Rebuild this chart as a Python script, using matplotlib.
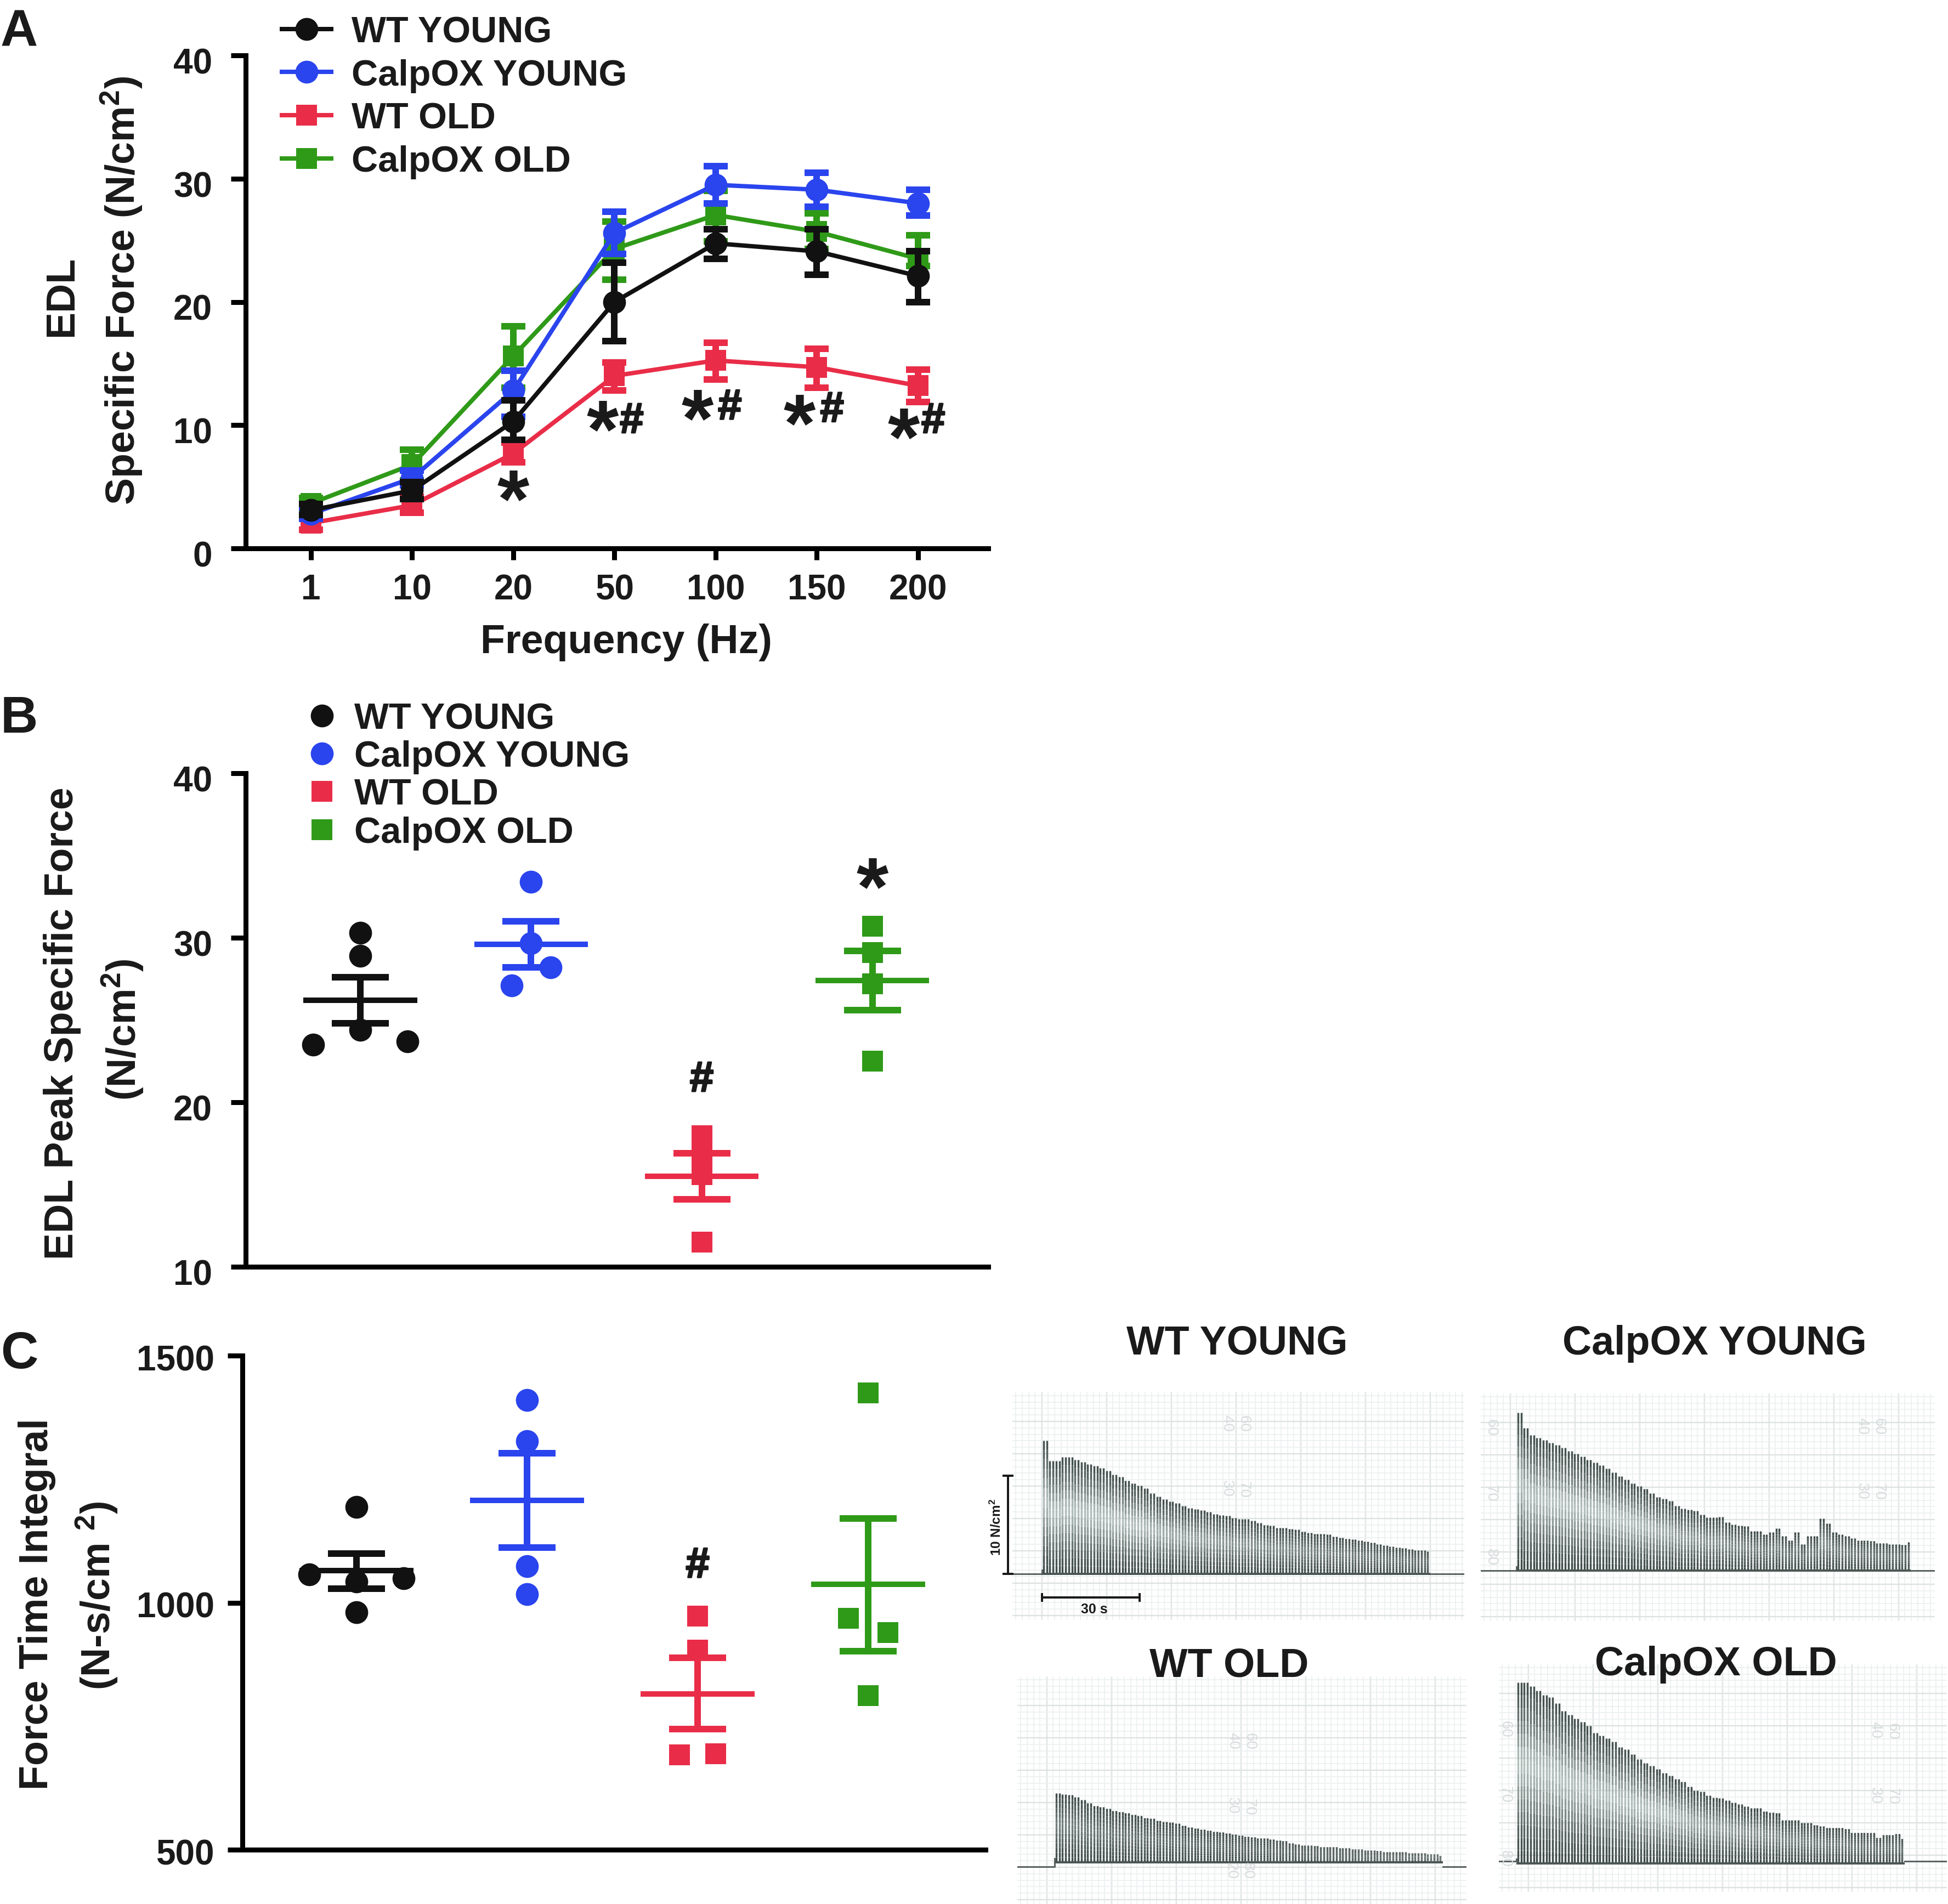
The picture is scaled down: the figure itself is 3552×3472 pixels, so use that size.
import numpy as np
import matplotlib
matplotlib.use("Agg")
import matplotlib.pyplot as plt
import matplotlib.patheffects as pe
from matplotlib.lines import Line2D
from matplotlib.transforms import ScaledTranslation

plt.rcParams['font.family'] = ['Liberation Sans', 'DejaVu Sans']
plt.rcParams['font.weight'] = 'bold'
plt.rcParams['mathtext.fontset'] = 'custom'
plt.rcParams['mathtext.rm'] = 'Liberation Sans:bold'
plt.rcParams['mathtext.bf'] = 'Liberation Sans:bold'
plt.rcParams['mathtext.default'] = 'rm'

W, H = 3552, 3473
BLACK = '#111111'
BLUE = '#2a44ee'
RED = '#e92d48'
GREEN = '#2f9a18'
TXT = '#1a1a1a'
groups = ['WT YOUNG', 'CalpOX YOUNG', 'WT OLD', 'CalpOX OLD']

# Panel A, frequency response
freq = ['1', '10', '20', '50', '100', '150', '200']
wt_young = [3.1, 4.7, 10.3, 20.0, 24.75, 24.1, 22.1]
wt_young_hi = [3.6, 5.4, 12.0, 23.2, 25.9, 25.9, 24.1]
wt_young_lo = [2.7, 4.0, 8.8, 16.8, 23.5, 22.2, 20.0]
calp_young = [2.8, 5.7, 12.8, 25.6, 29.5, 29.1, 28.0]
calp_young_hi = [3.3, 6.3, 14.4, 27.3, 31.0, 30.5, 29.1]
calp_young_lo = [2.4, 5.1, 10.7, 23.9, 28.0, 27.7, 27.0]
wt_old = [2.05, 3.5, 7.7, 14.0, 15.25, 14.7, 13.2]
wt_old_hi = [2.6, 4.2, 8.6, 15.1, 16.7, 16.2, 14.5]
wt_old_lo = [1.5, 2.9, 7.0, 12.8, 13.7, 13.05, 11.9]
calp_old = [3.65, 6.8, 15.6, 24.3, 27.05, 25.7, 23.5]
calp_old_hi = [4.1, 8.0, 18.0, 26.5, 29.0, 27.2, 25.4]
calp_old_lo = [3.1, 5.5, 13.05, 21.8, 24.9, 24.3, 22.9]
star_x_a = [2, 2.88, 3.82, 4.83, 5.86]
star_y_a = [5.07, 10.74, 11.6, 11.2, 10.1]
hash_x_a = [3.17, 4.14, 5.15, 6.15]
hash_y_a = [10.3, 11.4, 11.2, 10.3]

# Panel B, peak force
peak_x = [[0, 0, 0, -0.277, 0.277], [0, 0, 0.115, -0.115], [0, 0, 0, 0], [0, 0, 0, 0]]
peak_y = [[30.3, 28.9, 24.4, 23.5, 23.7], [33.4, 29.66, 28.2, 27.1],
          [17.96, 16.7, 15.6, 11.5], [30.7, 29.1, 27.2, 22.5]]
peak_mean = [26.2, 29.6, 15.5, 27.4]
peak_hi = [27.6, 31.0, 16.9, 29.2]
peak_lo = [24.8, 28.2, 14.1, 25.6]

# Panel C, force time integral
fti_x = [[0, -0.277, 0.277, 0, 0], [0, 0, 0, 0], [0, 0, -0.105, 0.105], [0, -0.115, 0.115, 0]]
fti_y = [[1194, 1057, 1049, 1043, 981], [1410, 1327, 1074, 1017],
         [973, 904, 692, 694], [1424, 968, 939, 812]]
fti_mean = [1065, 1207, 815, 1037]
fti_hi = [1099, 1302, 888, 1170]
fti_lo = [1028, 1112, 744, 902]

# Peak of every second twitch in the fatigue traces (N/cm2)
peaks_wt_young = [13.6, 11.5, 11.5, 11.9, 11.9, 11.6, 11.4, 11.2, 11.0, 10.8, 10.5, 10.1, 9.9, 9.5, 9.2, 9.0,
                  8.7, 8.2, 7.9, 7.6, 7.4, 7.2, 6.9, 6.7, 6.6, 6.5, 6.3, 6.1, 6.0, 5.9, 5.7, 5.6, 5.6, 5.4,
                  5.2, 5.0, 4.9, 4.7, 4.7, 4.6, 4.5, 4.3, 4.2, 4.1, 4.1, 4.0, 3.8, 3.7, 3.6, 3.5, 3.4, 3.3,
                  3.2, 3.0, 2.9, 2.8, 2.7, 2.6, 2.5, 2.4, 2.4, 2.3]
peaks_calp_young = [16.1, 14.5, 13.8, 13.5, 13.3, 13.0, 12.8, 12.5, 12.2, 11.9, 11.6, 11.3, 11.0, 10.7, 10.4,
                    10.0, 9.6, 9.3, 8.9, 8.6, 8.3, 7.9, 7.5, 7.3, 7.1, 6.6, 6.3, 6.2, 6.1, 5.7, 5.4, 5.4, 5.5,
                    4.9, 4.7, 4.6, 4.5, 4.0, 4.0, 3.7, 3.9, 4.3, 3.5, 3.1, 3.9, 2.7, 3.5, 3.5, 5.3, 4.8, 3.9,
                    3.7, 3.5, 3.3, 3.1, 3.1, 3.0, 2.8, 2.8, 2.7, 2.7, 2.6, 2.9]
peaks_wt_old = [7.5, 7.4, 7.3, 7.1, 6.8, 6.5, 6.2, 6.1, 5.9, 5.7, 5.6, 5.5, 5.3, 5.2, 5.0, 4.9, 4.7, 4.6, 4.5,
                4.4, 4.2, 4.0, 3.9, 3.8, 3.7, 3.6, 3.5, 3.4, 3.3, 3.2, 3.1, 3.0, 2.9, 2.9, 2.8, 2.7, 2.6, 2.4,
                2.3, 2.2, 2.2, 2.1, 2.0, 2.0, 2.0, 1.9, 1.9, 1.8, 1.8, 1.7, 1.7, 1.6, 1.5, 1.5, 1.5, 1.5, 1.4,
                1.4, 1.4, 1.3, 1.3, 1.1]
peaks_calp_old = [18.2, 18.2, 17.8, 17.4, 16.9, 16.7, 16.1, 15.3, 14.9, 14.5, 14.2, 13.8, 13.1, 12.8, 12.5, 12.2,
                  11.6, 11.4, 10.9, 10.4, 10.0, 9.7, 9.4, 9.0, 8.7, 8.4, 8.1, 7.6, 7.2, 7.1, 6.7, 6.5, 6.4, 6.2,
                  6.0, 5.8, 5.6, 5.4, 5.4, 5.1, 5.0, 4.9, 4.2, 4.2, 4.2, 3.9, 3.9, 3.7, 3.6, 3.4, 3.4, 3.4, 3.3,
                  2.9, 2.9, 2.9, 2.9, 2.4, 2.7, 2.7, 2.8, 2.3]

paper_wt_young = [('40', 2237, 2596), ('60', 2268, 2596), ('30', 2237, 2715), ('70', 2268, 2716)]
paper_calp_young = [('60', 2719, 2603), ('70', 2719, 2723), ('80', 2719, 2840), ('40', 3395, 2601),
                    ('60', 3426, 2601), ('30', 3395, 2720), ('70', 3426, 2720)]
paper_wt_old = [('40', 2248, 3175), ('60', 2279, 3175), ('30', 2247, 3293), ('70', 2278, 3295),
                ('20', 2245, 3411), ('80', 2275, 3412)]
paper_calp_old = [('60', 2745, 3153), ('70', 2745, 3272), ('80', 2745, 3390), ('40', 3419, 3155),
                  ('60', 3451, 3157), ('30', 3419, 3275), ('70', 3451, 3275)]

fig = plt.figure(figsize=(W / 100, H / 100), dpi=100)


def pt(px):
    return px * 0.72


def fx(x):
    return x / W


def fy(y):
    return 1 - y / H


def ax_px(left, top, right, bottom):
    return fig.add_axes([left / W, 1 - bottom / H, (right - left) / W, (bottom - top) / H])


def style_axes(ax, ypad=34, shift=8, fs=46):
    ax.spines['top'].set_visible(False)
    ax.spines['right'].set_visible(False)
    ax.spines['left'].set_linewidth(pt(9))
    ax.spines['bottom'].set_linewidth(pt(9))
    ax.patch.set_alpha(0)
    ax.tick_params(axis='y', length=pt(27), width=pt(9), pad=pt(ypad), labelsize=fs, labelcolor=TXT)
    ax.tick_params(axis='x', length=pt(21), width=pt(9), pad=pt(24), labelsize=fs, labelcolor=TXT)
    # the numbers sit a little below their ticks
    for lab in ax.get_yticklabels():
        lab.set_transform(lab.get_transform() + ScaledTranslation(0, -shift / 100, fig.dpi_scale_trans))


def star(ax, x, y):
    ax.annotate('*', xy=(x, y), xytext=(0, -75), textcoords='offset pixels', ha='center', va='baseline',
                fontsize=108, color=TXT)


def hash_mark(ax, x, y):
    ax.text(x, y, '#', ha='center', va='center', fontsize=56, color=TXT,
            path_effects=[pe.withStroke(linewidth=pt(3), foreground=TXT)])


# A
axA = ax_px(448, 102, 1802, 1001)
xs = np.arange(len(freq))
series = [(calp_old, calp_old_hi, calp_old_lo, GREEN, 's', 27),
          (wt_old, wt_old_hi, wt_old_lo, RED, 's', 27),
          (calp_young, calp_young_hi, calp_young_lo, BLUE, 'o', 30),
          (wt_young, wt_young_hi, wt_young_lo, BLACK, 'o', 30)]
for m, hi, lo, c, mk, ms in series:
    m, hi, lo = np.array(m), np.array(hi), np.array(lo)
    axA.errorbar(xs, m, yerr=[m - lo, hi - m], fmt='none', ecolor=c, elinewidth=pt(12), capsize=pt(22),
                 capthick=pt(12), clip_on=False)
    axA.plot(xs, m, color=c, marker=mk, ms=ms, mew=0, lw=pt(8), clip_on=False)
axA.set_xlim(-0.645, 6.694)
axA.set_ylim(0, 40)
axA.set_xticks(xs)
axA.set_xticklabels(freq)
axA.set_yticks([0, 10, 20, 30, 40])
style_axes(axA, shift=9)
for x, y in zip(star_x_a, star_y_a):
    star(axA, x, y)
for x, y in zip(hash_x_a, hash_y_a):
    hash_mark(axA, x, y)
fig.text(fx(1142), fy(1172), 'Frequency (Hz)', ha='center', va='center', fontsize=53, color=TXT)
fig.text(fx(113), fy(540), 'EDL', rotation=90, ha='center', va='center', fontsize=53, color=TXT)
fig.text(fx(222), fy(530), 'Specific Force (N/cm$^{2}$)', rotation=90, ha='center', va='center',
         fontsize=53, color=TXT)

handlesA = [Line2D([], [], color=BLACK, marker='o', ms=30, mew=0, lw=pt(8)),
            Line2D([], [], color=BLUE, marker='o', ms=30, mew=0, lw=pt(8)),
            Line2D([], [], color=RED, marker='s', ms=27, mew=0, lw=pt(8)),
            Line2D([], [], color=GREEN, marker='s', ms=27, mew=0, lw=pt(8))]
fig.legend(handlesA, groups, loc='upper left', bbox_to_anchor=(fx(514), fy(29)), frameon=False, fontsize=48,
           labelspacing=0.25, handlelength=1.35, handletextpad=0.56, borderpad=0, borderaxespad=0,
           labelcolor=TXT)


def scatter_panel(ax, px, py, mean, hi, lo):
    colors = [BLACK, BLUE, RED, GREEN]
    marks = ['o', 'o', 's', 's']
    sizes = [30, 30, 27, 27]
    for i, c in enumerate(colors):
        ax.plot(i + np.array(px[i]), py[i], ls='none', marker=marks[i], ms=sizes[i], mew=0, color=c, clip_on=False)
        ax.errorbar([i], [mean[i]], yerr=[[mean[i] - lo[i]], [hi[i] - mean[i]]], color=c, elinewidth=pt(12),
                    capsize=pt(52), capthick=pt(12), ls='none')
        ax.hlines(mean[i], i - 0.333, i + 0.333, color=c, lw=pt(10))


# B
axB = ax_px(448, 1411, 1802, 2311)
scatter_panel(axB, peak_x, peak_y, peak_mean, peak_hi, peak_lo)
axB.set_xlim(-0.672, 3.679)
axB.set_ylim(10, 40)
axB.set_xticks([])
axB.set_yticks([10, 20, 30, 40])
style_axes(axB, shift=9)
star(axB, 3, 33.9)
hash_mark(axB, 2, 21.35)
fig.text(fx(114), fy(1866), 'EDL Peak Specific Force', rotation=90, ha='center', va='center', fontsize=53, color=TXT)
fig.text(fx(224), fy(1878), '(N/cm$^{2}$)', rotation=90, ha='center', va='center', fontsize=53, color=TXT)
handlesB = [Line2D([], [], ls='none', color=BLACK, marker='o', ms=30, mew=0),
            Line2D([], [], ls='none', color=BLUE, marker='o', ms=30, mew=0),
            Line2D([], [], ls='none', color=RED, marker='s', ms=27, mew=0),
            Line2D([], [], ls='none', color=GREEN, marker='s', ms=27, mew=0)]
fig.legend(handlesB, groups, loc='upper left', bbox_to_anchor=(fx(565), fy(1281)), frameon=False, fontsize=48,
           labelspacing=0.11, handlelength=0.65, handletextpad=0.56, borderpad=0, borderaxespad=0, labelcolor=TXT)

# C
axC = ax_px(442, 2473, 1797, 3374)
scatter_panel(axC, fti_x, fti_y, fti_mean, fti_hi, fti_lo)
axC.set_xlim(-0.669, 3.688)
axC.set_ylim(500, 1500)
axC.set_xticks([])
axC.set_yticks([500, 1000, 1500])
style_axes(axC, ypad=24, shift=3)
hash_mark(axC, 2, 1074)
fig.text(fx(67), fy(2925), 'Force Time Integral', rotation=90, ha='center', va='center', fontsize=53, color=TXT)
fig.text(fx(177), fy(2910), '(N-s/cm $^{2}$)', rotation=90, ha='center', va='center', fontsize=53, color=TXT)

# panel letters
for letter, y in zip('ABC', [84, 1336, 2495]):
    fig.text(fx(1), fy(y), letter, ha='left', va='baseline', fontsize=68, color=TXT)

UNIT = 17.9    # pixels per N/cm2 on the traces
STEP = 11.48   # pixels per pair of twitches
DARK = np.array([0.24, 0.29, 0.28])
LIGHT = np.array([0.74, 0.79, 0.78])
TIERS = np.linspace(0, 1, 15)
PROFILE = np.interp(TIERS, [0, 0.12, 0.28, 0.55, 0.82, 1], [0, 0.08, 0.4, 1, 0.3, 0])


def trace(box, base_y, start_x, peaks, trough, paper, light=1.0):
    left, top, right, bottom = box
    ax = ax_px(left, top, right, bottom)
    xlim = ((left - start_x) / STEP, (right - start_x) / STEP)
    ylim = ((base_y - bottom) / UNIT, (base_y - top) / UNIT)
    ax.set_xticks(np.arange(54, right - left, 118) / STEP + xlim[0])
    ax.set_xticks(np.arange(6, right - left, 11.8) / STEP + xlim[0], minor=True)
    ax.set_yticks(np.arange(8, bottom - top, 59) / UNIT + ylim[0])
    ax.set_yticks(np.arange(8, bottom - top, 11.8) / UNIT + ylim[0], minor=True)
    ax.set_xlim(xlim)
    ax.set_ylim(ylim)
    ax.grid(which='minor', color='#ecefef', lw=pt(1.6), zorder=0)
    ax.grid(which='major', color='#dde3e2', lw=pt(2.4), zorder=0)
    ax.set_axisbelow(True)
    ax.tick_params(which='both', length=0, labelbottom=False, labelleft=False)
    for s in ax.spines.values():
        s.set_visible(False)
    p = np.array(peaks)
    x = np.arange(len(p))
    fade = np.clip(p / 9, 0.2, 1) * light
    for a, b, prof_a, prof_b in zip(TIERS[:-1], TIERS[1:], PROFILE[:-1], PROFILE[1:]):
        y0 = trough + a * (p - trough)
        y1 = trough + b * (p - trough)
        shade = 0.5 * (prof_a + prof_b) * fade
        cols = DARK + (LIGHT - DARK) * shade[:, None]
        ax.vlines(x, y0, y1, colors=cols, lw=pt(3.4), zorder=2)
        ax.vlines(x[:-1] + 0.5, y0[:-1], y1[:-1], colors=cols[:-1], lw=pt(3.4), zorder=2)
    ax.plot([xlim[0], -0.3, -0.3], [0, 0, trough + 0.4], color='#5a6462', lw=pt(3), zorder=3)
    ax.plot([len(p) - 0.6, xlim[1]], [0, 0], color='#5a6462', lw=pt(3), zorder=3)
    ax.hlines(trough, -0.3, len(p) - 0.6, color='#4c5755', lw=pt(4), zorder=3)
    for s, px, py in paper:
        fig.text(fx(px), fy(py), s, rotation=-90, ha='center', va='center', fontsize=20, fontweight='normal',
                 color='#d8dddd')
    return ax


axT1 = trace((1846, 2539, 2670, 2955), 2871, 1903, peaks_wt_young, 0, paper_wt_young)
axT2 = trace((2700, 2542, 3528, 2957), 2865, 2768, peaks_calp_young, 0, paper_calp_young)
axT3 = trace((1855, 3058, 2674, 3473), 3405, 1926, peaks_wt_old, 0.45, paper_wt_old, light=0.55)
axT4 = trace((2733, 3036, 3550, 3451), 3395, 2768, peaks_calp_old, -0.2, paper_calp_old)

# scale bars on the first trace
x0 = -3 / STEP
axT1.plot([-65 / STEP, -65 / STEP], [0, 10], color=TXT, lw=pt(4), clip_on=False, zorder=5)
axT1.plot([-65 / STEP, -65 / STEP], [0, 10], ls='none', marker='_', ms=pt(20), mew=pt(4), color=TXT, clip_on=False, zorder=5)
axT1.plot([x0, x0 + 178 / STEP], [-2.4, -2.4], color=TXT, lw=pt(4), marker='|', ms=pt(16), mew=pt(4), zorder=5)
fig.text(fx(1817), fy(2785), '10 N/cm$^{2}$', rotation=90, ha='center', va='center', fontsize=17.5, color=TXT)
fig.text(fx(1995), fy(2935), '30 s', ha='center', va='center', fontsize=18, color=TXT)

for s, x, y in [(groups[0], 2256, 2470), (groups[1], 3126, 2470), (groups[2], 2241, 3058), (groups[3], 3129, 3055)]:
    fig.text(fx(x), fy(y), s, ha='center', va='baseline', fontsize=53, color=TXT)

fig.savefig('out.png', dpi=100, facecolor='white')
